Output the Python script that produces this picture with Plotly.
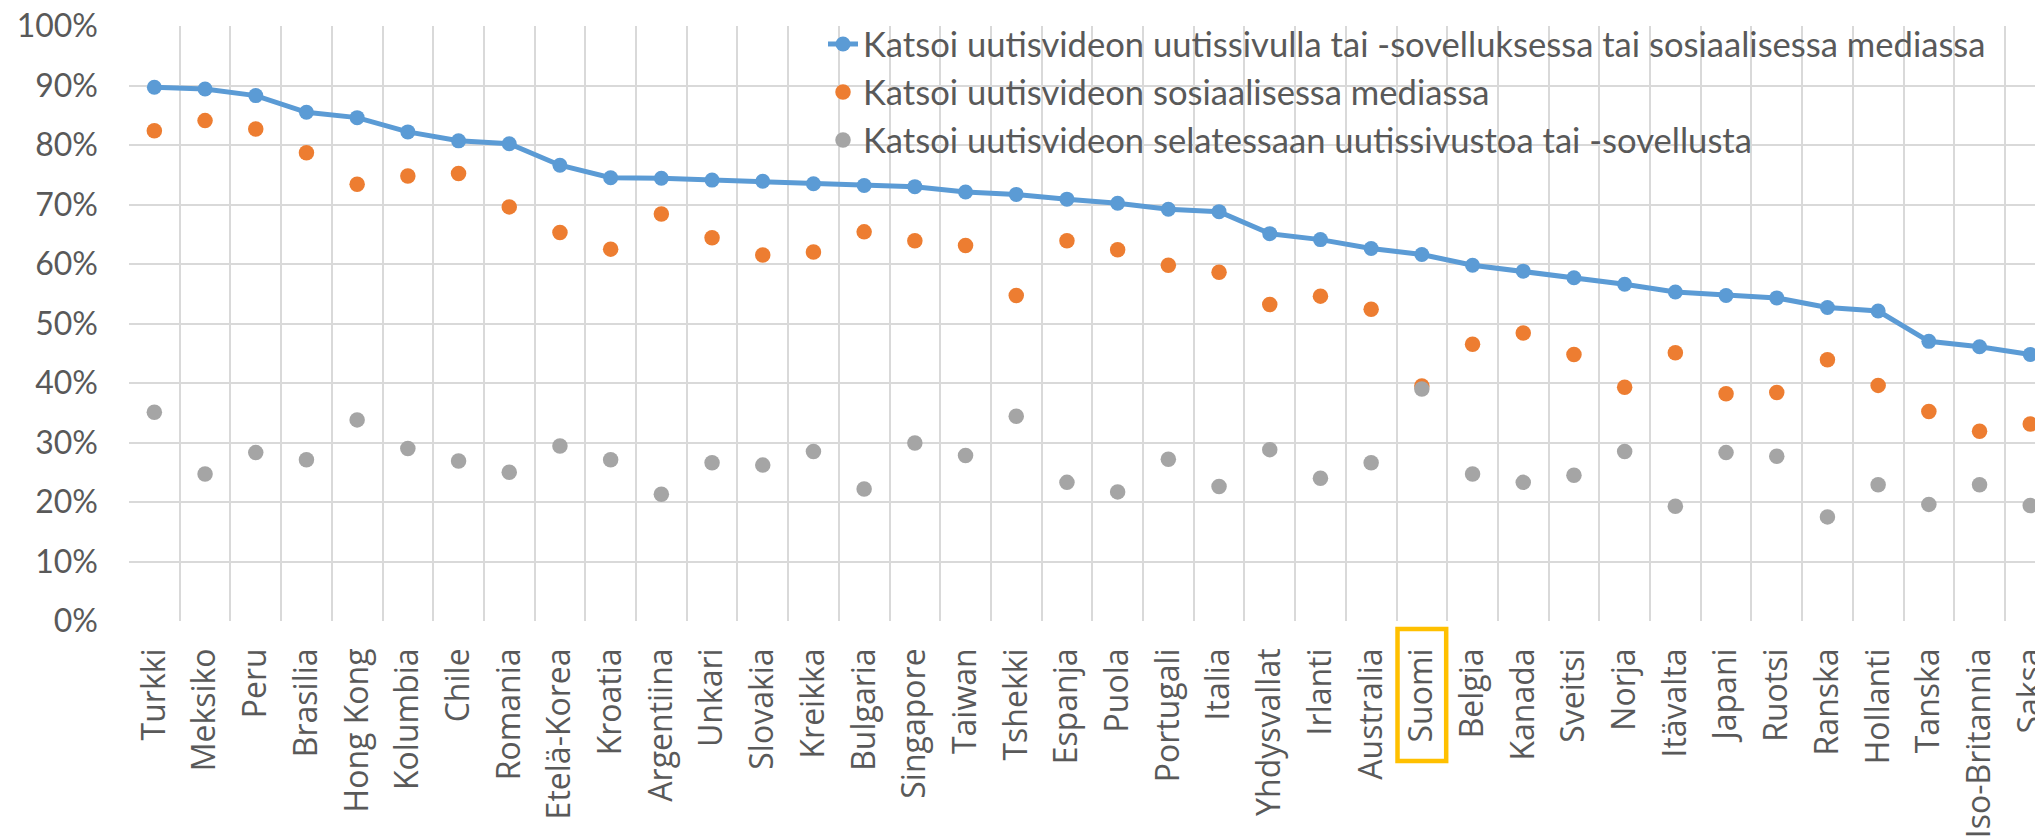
import plotly.graph_objects as go

# Maat järjestettynä kokonaisosuuden mukaan
maat = [
    "Turkki", "Meksiko", "Peru", "Brasilia", "Hong Kong", "Kolumbia", "Chile",
    "Romania", "Etelä-Korea", "Kroatia", "Argentiina", "Unkari", "Slovakia",
    "Kreikka", "Bulgaria", "Singapore", "Taiwan", "Tshekki", "Espanja", "Puola",
    "Portugali", "Italia", "Yhdysvallat", "Irlanti", "Australia", "Suomi",
    "Belgia", "Kanada", "Sveitsi", "Norja", "Itävalta", "Japani", "Ruotsi",
    "Ranska", "Hollanti", "Tanska", "Iso-Britannia", "Saksa",
]

# Katsoi uutisvideon uutissivulla tai -sovelluksessa tai sosiaalisessa mediassa (%)
kaikki = [
    89.7, 89.4, 88.3, 85.5, 84.6, 82.2, 80.7, 80.2, 76.6, 74.5, 74.4, 74.1, 73.9,
    73.5, 73.2, 73.0, 72.1, 71.7, 70.9, 70.2, 69.2, 68.8, 65.1, 64.1, 62.6, 61.6,
    59.8, 58.8, 57.7, 56.6, 55.3, 54.7, 54.3, 52.7, 52.1, 47.0, 46.1, 44.8,
]

# Katsoi uutisvideon sosiaalisessa mediassa (%)
some = [
    82.4, 84.1, 82.7, 78.7, 73.4, 74.8, 75.2, 69.6, 65.3, 62.5, 68.4, 64.4, 61.5,
    62.0, 65.4, 63.9, 63.1, 54.7, 63.9, 62.4, 59.8, 58.6, 53.2, 54.6, 52.4, 39.5,
    46.5, 48.4, 44.8, 39.3, 45.1, 38.2, 38.4, 43.9, 39.6, 35.2, 31.9, 33.1,
]

# Katsoi uutisvideon selatessaan uutissivustoa tai -sovellusta (%)
uutissivu = [
    35.1, 24.7, 28.3, 27.1, 33.8, 29.0, 26.9, 25.0, 29.4, 27.1, 21.3, 26.6, 26.2,
    28.5, 22.2, 29.9, 27.8, 34.4, 23.3, 21.7, 27.2, 22.6, 28.8, 24.0, 26.6, 39.0,
    24.7, 23.3, 24.5, 28.5, 19.3, 28.3, 27.7, 17.5, 22.9, 19.6, 22.9, 19.4,
]

sarjat = [
    "Katsoi uutisvideon uutissivulla tai -sovelluksessa tai sosiaalisessa mediassa",
    "Katsoi uutisvideon sosiaalisessa mediassa",
    "Katsoi uutisvideon selatessaan uutissivustoa tai -sovellusta",
]

korostettu = "Suomi"

SININEN = "#5B9BD5"
ORANSSI = "#ED7D31"
HARMAA = "#A5A5A5"
RUUDUKKO = "#D9D9D9"
TEKSTI = "#595959"
KELTAINEN = "#FFC000"

W, H = 2035, 837
M_L, M_R, M_T, M_B = 129, 0, 26, 216
plot_w = W - M_L - M_R
plot_h = H - M_T - M_B
kategorian_leveys = 50.7  # px per maa
x_range = [-0.5, -0.5 + plot_w / kategorian_leveys]

fig = go.Figure()
fig.add_trace(go.Scatter(
    x=maat, y=kaikki, name=sarjat[0], mode="lines+markers",
    line=dict(color=SININEN, width=5),
    marker=dict(color=SININEN, size=15),
    cliponaxis=False,
))
fig.add_trace(go.Scatter(
    x=maat, y=some, name=sarjat[1], mode="markers",
    marker=dict(color=ORANSSI, size=15.5),
    cliponaxis=False,
))
fig.add_trace(go.Scatter(
    x=maat, y=uutissivu, name=sarjat[2], mode="markers",
    marker=dict(color=HARMAA, size=15.5),
    cliponaxis=False,
))

# Kehys korostetun maan nimen ympärille
i = maat.index(korostettu)
span = x_range[1] - x_range[0]
xc = (i - x_range[0]) / span
half = 0.48 / span
fig.add_shape(
    type="rect", xref="paper", yref="paper",
    x0=xc - half, x1=xc + half,
    y0=-8 / plot_h, y1=-140 / plot_h,
    line=dict(color=KELTAINEN, width=4.5),
    fillcolor="rgba(0,0,0,0)",
)

fig.update_layout(
    width=W, height=H,
    margin=dict(l=M_L, r=M_R, t=M_T, b=M_B, pad=0),
    paper_bgcolor="white", plot_bgcolor="white",
    showlegend=True,
    legend=dict(
        x=(823 - M_L) / plot_w, y=1.0 + 11 / plot_h,
        xanchor="left", yanchor="top",
        bgcolor="rgba(0,0,0,0)",
        font=dict(family="Lato", size=34.6, color=TEKSTI),
        tracegroupgap=0,
    ),
    xaxis=dict(
        type="category", range=x_range, tickson="boundaries",
        showgrid=True, gridcolor=RUUDUKKO, gridwidth=1.5,
        showline=False, zeroline=False, ticks="",
        tickangle=-90, ticklabelstandoff=20,
        tickfont=dict(family="Open Sans", size=32, color=TEKSTI),
        automargin=False,
    ),
    yaxis=dict(
        range=[0, 100], dtick=10, ticksuffix="%",
        showgrid=True, gridcolor=RUUDUKKO, gridwidth=1.5,
        showline=False, zeroline=False, ticks="",
        ticklabelstandoff=30,
        tickfont=dict(family="Lato", size=32, color=TEKSTI),
        automargin=False,
    ),
)

fig.write_html("out.html")
